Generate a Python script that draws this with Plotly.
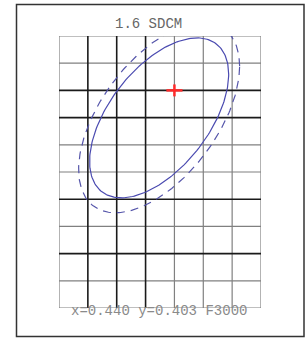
import numpy as np
import plotly.graph_objects as go

# grid (chromaticity x / y)
x_lines = [0.436, 0.437, 0.438, 0.439, 0.440, 0.441, 0.442, 0.443]
y_lines = [0.405, 0.404, 0.403, 0.402, 0.401, 0.400, 0.399, 0.398, 0.397, 0.396, 0.395]
x_dark = [0.437, 0.438, 0.439]
y_dark = [0.403, 0.402, 0.399, 0.397]

# target point
target_x = 0.440
target_y = 0.403
cct_label = "F3000"
sdcm_label = "1.6 SDCM"

# measured ellipse (center, semi-extents, phase in degrees)
ell_center = (0.43947, 0.40199)
ell_solid = (0.00241, 0.00294, 57.0)
ell_dashed = (0.00279, 0.00349, 57.0)

X0, X1 = x_lines[0], x_lines[-1]
Y0, Y1 = y_lines[-1], y_lines[0]

fig = go.Figure()

def vlines(xs):
    px, py = [], []
    for v in xs:
        px += [v, v, None]
        py += [Y0, Y1, None]
    return px, py

def hlines(ys):
    px, py = [], []
    for v in ys:
        px += [X0, X1, None]
        py += [v, v, None]
    return px, py

light_x = [v for v in x_lines if v not in x_dark]
light_y = [v for v in y_lines if v not in y_dark]

for xs, ys, col, w in [
    (light_x, [], "#808080", 1.2),
    ([], light_y, "#808080", 1.2),
    (x_dark, [], "#1a1a1a", 1.6),
    ([], y_dark, "#1a1a1a", 1.6),
]:
    if xs:
        px, py = vlines(xs)
    else:
        px, py = hlines(ys)
    fig.add_trace(go.Scatter(x=px, y=py, mode="lines",
                             line=dict(color=col, width=w),
                             hoverinfo="skip", showlegend=False))

def ellipse(params):
    a, b, phi = params
    t = np.linspace(0, 2 * np.pi, 241)
    ph = np.deg2rad(phi)
    return ell_center[0] + a * np.cos(t), ell_center[1] + b * np.cos(t - ph)

ex, ey = ellipse(ell_dashed)
fig.add_trace(go.Scatter(x=ex, y=ey, mode="lines",
                         line=dict(color="#5555aa", width=1.2, dash="8px,6px"),
                         showlegend=False))
ex, ey = ellipse(ell_solid)
fig.add_trace(go.Scatter(x=ex, y=ey, mode="lines",
                         line=dict(color="#4a4ab0", width=1.2),
                         showlegend=False))

# red cross
hx = 0.00028
hy = 0.00022
fig.add_trace(go.Scatter(x=[target_x - hx, target_x + hx], y=[target_y, target_y],
                         mode="lines", line=dict(color="#ff2a2a", width=2.5),
                         showlegend=False))
fig.add_trace(go.Scatter(x=[target_x, target_x], y=[target_y - hy, target_y + hy],
                         mode="lines", line=dict(color="#ff2a2a", width=2.5),
                         showlegend=False))

L, R, T, B = 59, 46, 36, 32
W, H = 307, 340
pw, ph_ = W - L - R, H - T - B

def px2paper(x, y):
    return (x - L) / pw, (H - B - y) / ph_

x0p, y1p = px2paper(16.5, 4.5)
x1p, y0p = px2paper(304, 336.5)
fig.add_shape(type="rect", xref="paper", yref="paper",
              x0=x0p, x1=x1p, y0=y0p, y1=y1p,
              line=dict(color="#333333", width=1.5), layer="above")

tx, ty = px2paper(148.5, 24)
fig.add_annotation(xref="paper", yref="paper", x=tx, y=ty, text=sdcm_label,
                   showarrow=False, font=dict(family="Liberation Mono", size=14, color="#666666"),
                   xanchor="center", yanchor="middle")
bx, by = px2paper(158.5, 311)
fig.add_annotation(xref="paper", yref="paper", x=bx, y=by,
                   text=f"x={target_x:.3f} y={target_y:.3f} {cct_label}",
                   showarrow=False, font=dict(family="Liberation Mono", size=14, color="#8a8a8a"),
                   xanchor="center", yanchor="middle")

fig.update_xaxes(range=[X0, X1], visible=False, showgrid=False, zeroline=False)
fig.update_yaxes(range=[Y0, Y1], visible=False, showgrid=False, zeroline=False)
fig.update_layout(width=W, height=H, margin=dict(l=L, r=R, t=T, b=B),
                  paper_bgcolor="white", plot_bgcolor="white", showlegend=False)

fig.write_html("out.html", config={"displayModeBar": False},
               post_script="document.body.style.margin='0px';document.body.style.overflow='hidden';")
